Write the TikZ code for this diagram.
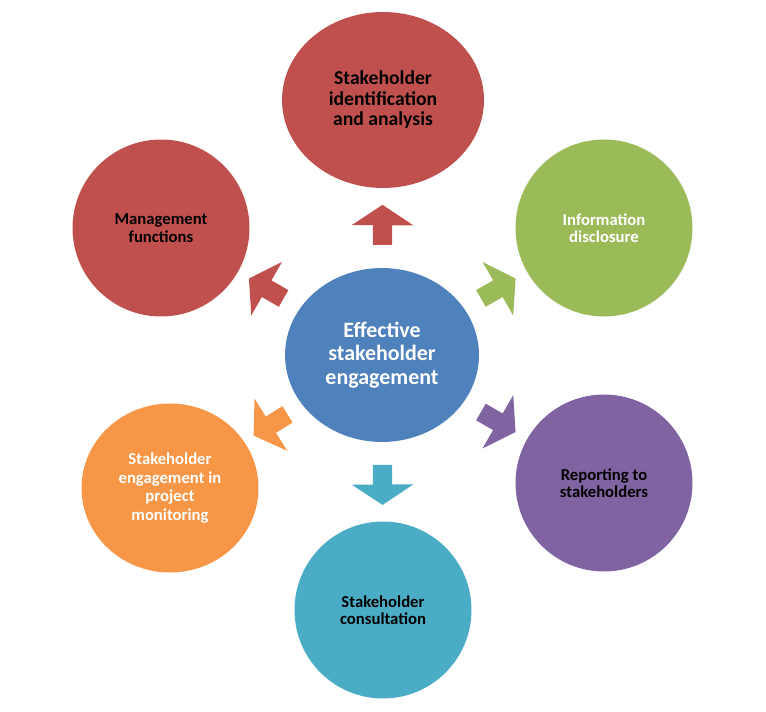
\documentclass[tikz,border=0pt]{standalone}
\usepackage{fontspec}
\setmainfont{Carlito}
\usetikzlibrary{shapes.geometric,shapes.arrows}

\definecolor{redfill}{HTML}{C0504D}
\definecolor{greenfill}{HTML}{9BBB59}
\definecolor{bluefill}{HTML}{4F81BD}
\definecolor{purplefill}{HTML}{8064A2}
\definecolor{tealfill}{HTML}{4BACC6}
\definecolor{orangefill}{HTML}{F79646}

\begin{document}
\begin{tikzpicture}[
    x=0.02cm, y=-0.02cm,
    every node/.style={align=center, inner sep=0pt},
    bubble/.style={circle, minimum size=3.54cm, font=\fontsize{9.5}{10}\selectfont\bfseries},
    pointer/.style={single arrow, inner xsep=0pt, inner ysep=0.185cm, minimum height=0.8cm,
        single arrow head extend=0.425cm, single arrow tip angle=113,
        sloped, allow upside down}
]
  \useasboundingbox (0,0) rectangle (766,712);

  % hub
  \node[ellipse, fill=bluefill, minimum width=3.88cm, minimum height=3.48cm,
        text=white, font=\fontsize{12.5}{13.4}\selectfont\bfseries]
        (hub) at (382,355) {Effective\\stakeholder\\engagement};

  % outer circles
  \node[ellipse, fill=redfill, minimum width=4.04cm, minimum height=3.52cm,
        font=\fontsize{11.2}{11.7}\selectfont\bfseries]
        (ident) at (383,100) {Stakeholder\\identification\\and analysis};
  \node[bubble, fill=greenfill, text=white] (disclose) at (604,228) {Information\\disclosure};
  \node[bubble, fill=purplefill] (report) at (604,483) {Reporting to\\stakeholders};
  \node[bubble, fill=tealfill] (consult) at (383,610) {Stakeholder\\consultation};
  \node[ellipse, fill=orangefill, minimum width=3.54cm, minimum height=3.38cm, text=white,
        font=\fontsize{9.5}{10.6}\selectfont\bfseries]
        (monitor) at (170,488) {Stakeholder\\engagement in\\project\\monitoring};
  \node[bubble, fill=redfill] (manage) at (161,228) {Management\\functions};

  % arrows
  \path (hub) -- (ident)    node[midway, pointer, fill=redfill] (a1) {};
  \path (hub) -- (disclose) node[midway, pointer, fill=greenfill] (a2) {};
  \path (hub) -- (report)   node[midway, pointer, fill=purplefill] (a3) {};
  \path (hub) -- (consult)  node[midway, pointer, fill=tealfill] (a4) {};
  \path (hub) -- (monitor)  node[midway, pointer, fill=orangefill] (a5) {};
  \path (hub) -- (manage)   node[midway, pointer, fill=redfill] (a6) {};
\end{tikzpicture}
\end{document}
